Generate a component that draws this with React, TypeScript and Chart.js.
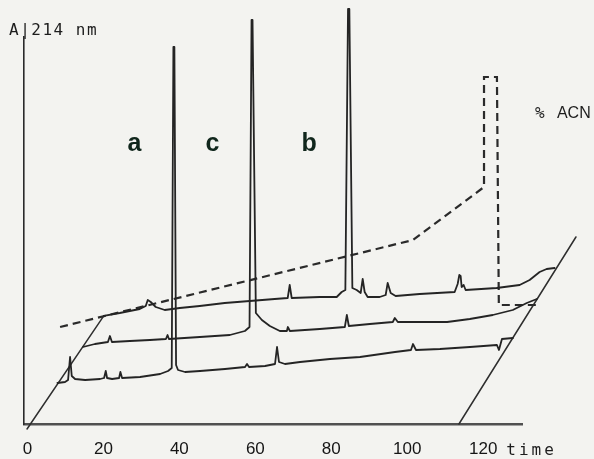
import React, { useEffect, useRef } from "react";
import { Chart, registerables } from "chart.js";

Chart.register(...registerables);

// ---- axis ticks (minutes) ----
const TIME_TICKS = [0, 20, 40, 60, 80, 100, 120];

// ---- chromatogram runs: time (min, from each run's own origin) and absorbance (a.u.) ----
const RUN1_TIME = [0, 2.0, 2.8, 3.33, 3.77, 4.65, 7.28, 11.23, 12.28, 12.72, 13.07, 14.39, 16.23, 16.58, 17.02, 21.75, 27.02, 29.12, 30.09, 30.53, 30.79, 31.23, 31.75, 33.6, 37.54, 44.12, 49.39, 49.91, 50.44, 54.65, 57.28, 57.81, 58.33, 59.91, 63.86, 71.75, 79.65, 88.86, 93.07, 93.6, 94.39, 100.7, 108.6, 115.7, 116.23, 117.02, 119.91];
const RUN1_ABS = [0, 0.25, 0.75, 6.5, 1.75, 1.0, 0.75, 1.0, 1.25, 3.0, 1.25, 1.0, 1.25, 2.75, 1.25, 1.5, 2.25, 3.0, 3.75, 84, 84, 4.5, 3.25, 2.75, 3.0, 3.5, 4.0, 4.75, 4.0, 4.25, 4.75, 9.0, 5.25, 4.75, 5.25, 6.0, 6.5, 7.75, 8.25, 9.75, 8.25, 8.5, 9.0, 9.5, 8.25, 11.0, 11.25];

const RUN2_TIME = [0.61, 3.77, 7.19, 7.72, 8.25, 12.98, 18.25, 22.46, 22.89, 23.25, 31.4, 39.3, 43.25, 44.47, 45.0, 45.26, 46.14, 47.72, 49.82, 52.46, 54.3, 54.56, 55.09, 62.98, 69.56, 70.09, 70.61, 76.14, 82.19, 82.72, 83.51, 96.49, 102.46, 108.51, 113.77, 117.46, 120.09];
const RUN2_ABS = [0.6, 1.35, 1.85, 3.35, 1.85, 2.1, 2.35, 2.6, 3.6, 2.6, 3.1, 3.6, 4.6, 5.6, 82.35, 82.35, 9.1, 7.35, 5.85, 4.6, 4.6, 5.6, 4.6, 5.1, 5.6, 8.6, 5.85, 6.35, 6.85, 7.85, 6.85, 6.85, 7.6, 8.6, 9.85, 11.6, 12.6];

const RUN3_TIME = [0, 4.21, 9.47, 11.05, 11.58, 12.37, 13.68, 16.05, 20.0, 25.26, 31.84, 38.42, 45.0, 48.42, 48.95, 49.47, 56.84, 61.32, 62.63, 63.6, 64.3, 64.65, 65.44, 66.58, 67.63, 68.16, 68.68, 69.47, 72.63, 74.21, 74.74, 75.53, 76.84, 83.16, 92.37, 93.16, 93.6, 93.95, 94.21, 94.74, 95.26, 103.42, 109.47, 112.11, 114.74, 116.58, 118.68];
const RUN3_ABS = [0, 0.7, 1.7, 2.45, 3.95, 3.45, 2.2, 1.45, 1.95, 2.45, 3.2, 3.7, 4.2, 4.45, 7.7, 4.45, 4.7, 4.7, 5.95, 6.45, 76.7, 76.7, 6.95, 6.45, 5.7, 9.2, 5.95, 4.7, 4.7, 5.2, 8.2, 5.7, 4.95, 5.45, 5.95, 7.95, 10.2, 9.95, 7.2, 7.7, 6.45, 6.95, 7.7, 8.95, 10.95, 11.7, 11.95];

// pseudo-3D stacking of the runs (front -> back)
const RUN_TIME_SHIFT = [7.9, 14.0, 20.1];
const RUN_ABS_SHIFT = [10.25, 18.65, 27.05];
const PEAK_NAMES = ["a", "c", "b"];

// ---- % ACN gradient programme ----
const GRADIENT_TIME = [8.6, 101.5, 120.2, 120.2, 123.6, 124.1, 134.4];
const GRADIENT_LEVEL = [24.25, 46.0, 59.25, 86.75, 86.75, 29.75, 29.75];

// ---- depth (run) axes ----
const DEPTH_LEFT_TIME = [-0.1, 20.1];
const DEPTH_LEFT_LEVEL = [-1.25, 27.05];
const DEPTH_RIGHT_TIME = [113.6, 144.4];
const DEPTH_RIGHT_LEVEL = [0, 46.75];

const INK = "#242424";

const textPlugin = {
  id: "chromText",
  afterDatasetsDraw(chart: any) {
    const { ctx, chartArea } = chart;
    const xs = chart.scales.x;
    const ys = chart.scales.y;
    ctx.save();
    ctx.fillStyle = "#1d1d1d";
    ctx.textAlign = "left";
    ctx.textBaseline = "alphabetic";

    ctx.font = '16px "DejaVu Sans Mono", monospace';
    ctx.letterSpacing = "1.5px";
    ctx.fillText("A|214 nm", chartArea.left - 15, chartArea.top - 2);

    ctx.letterSpacing = "3px";
    ctx.fillText("time", xs.getPixelForValue(TIME_TICKS[TIME_TICKS.length - 1]) + 23, xs.top + 31);
    ctx.letterSpacing = "0px";

    // % ACN label next to gradient plateau
    const gx = xs.getPixelForValue(GRADIENT_TIME[4]);
    const gy = ys.getPixelForValue(GRADIENT_LEVEL[4]);
    ctx.font = '16px "DejaVu Sans Mono", monospace';
    ctx.fillText("%", gx + 38, gy + 41);
    ctx.font = '16px "Liberation Sans", Arial, sans-serif';
    ctx.fillText("ACN", gx + 60, gy + 41);

    // peak labels
    const runs = [
      [RUN1_TIME, RUN1_ABS],
      [RUN2_TIME, RUN2_ABS],
      [RUN3_TIME, RUN3_ABS],
    ];
    ctx.font = 'bold 25px "Liberation Sans", Arial, sans-serif';
    ctx.fillStyle = "#10261c";
    ctx.textAlign = "center";
    runs.forEach(([t, a], k) => {
      let idx = 0;
      a.forEach((v: number, i: number) => {
        if (v > a[idx]) idx = i;
      });
      const px = xs.getPixelForValue(t[idx] + RUN_TIME_SHIFT[k]);
      ctx.fillText(PEAK_NAMES[k], px - 39, ys.getPixelForValue(68.25));
    });
    ctx.restore();
  },
};

export default function App() {
  const ref = useRef<HTMLCanvasElement>(null);

  useEffect(() => {
    document.body.style.margin = "0";
    const canvas = ref.current!;
    const runs = [
      [RUN1_TIME, RUN1_ABS],
      [RUN2_TIME, RUN2_ABS],
      [RUN3_TIME, RUN3_ABS],
    ];
    const base = {
      pointRadius: 0,
      tension: 0,
      fill: false,
      clip: false as const,
      borderJoinStyle: "round" as const,
      borderCapStyle: "round" as const,
    };
    const datasets: any[] = runs.map(([t, a], k) => ({
      ...base,
      label: `run ${k + 1}`,
      data: t.map((v, i) => ({ x: v + RUN_TIME_SHIFT[k], y: a[i] + RUN_ABS_SHIFT[k] })),
      borderColor: INK,
      borderWidth: 1.8,
    }));
    datasets.push({
      ...base,
      label: "% ACN",
      data: GRADIENT_TIME.map((t, i) => ({ x: t, y: GRADIENT_LEVEL[i] })),
      borderColor: "#2a2a2a",
      borderWidth: 2.2,
      borderDash: [8, 5],
      borderCapStyle: "butt",
      borderJoinStyle: "miter",
    });
    datasets.push({
      ...base,
      label: "depth left",
      data: DEPTH_LEFT_TIME.map((t, i) => ({ x: t, y: DEPTH_LEFT_LEVEL[i] })),
      borderColor: "#2e2e2e",
      borderWidth: 1.5,
    });
    datasets.push({
      ...base,
      label: "depth right",
      data: DEPTH_RIGHT_TIME.map((t, i) => ({ x: t, y: DEPTH_RIGHT_LEVEL[i] })),
      borderColor: "#2e2e2e",
      borderWidth: 1.5,
    });

    const chart = new Chart(canvas, {
      type: "line",
      data: { datasets },
      plugins: [textPlugin],
      options: {
        animation: false,
        responsive: false,
        devicePixelRatio: 1,
        events: [],
        layout: { padding: { left: 24, top: 37, right: 72, bottom: 0 } },
        plugins: {
          legend: { display: false },
          tooltip: { enabled: false },
          title: { display: false },
        },
        scales: {
          x: {
            type: "linear",
            bounds: "data",
            afterDataLimits: (s: any) => {
              s.min = -0.9;
              s.max = 130.2;
            },
            afterBuildTicks: (s: any) => {
              s.ticks = TIME_TICKS.map((value) => ({ value }));
            },
            afterFit: (s: any) => {
              s.height = 35;
            },
            grid: { display: false, drawTicks: false },
            border: { display: true, color: "#505050", width: 2.5 },
            ticks: {
              color: "#151515",
              font: { family: '"Liberation Sans", Arial, sans-serif', size: 17 },
              padding: 15,
              autoSkip: false,
              maxRotation: 0,
              callback: (v: any) => String(v),
            },
          },
          y: {
            type: "linear",
            bounds: "data",
            afterDataLimits: (s: any) => {
              s.min = 0;
              s.max = 96.75;
            },
            afterFit: (s: any) => {
              s.width = 0;
            },
            grid: { display: false, drawTicks: false },
            border: { display: true, color: "#2a2a2a", width: 1.6 },
            ticks: { display: false },
          },
        },
      },
    });
    return () => chart.destroy();
  }, []);

  return (
    <div style={{ width: 594, height: 459, background: "#f3f3f0", position: "relative", overflow: "hidden" }}>
      <canvas ref={ref} width={594} height={459} style={{ display: "block" }} />
    </div>
  );
}
